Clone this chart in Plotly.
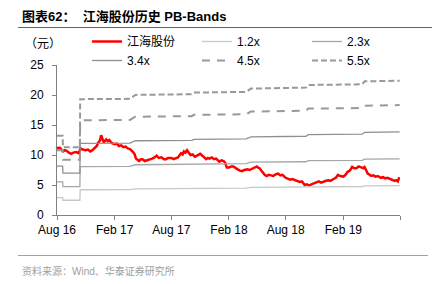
import plotly.graph_objects as go

# ---- data ----
price_dates = ["2016-08-01","2016-08-05","2016-08-10","2016-08-15","2016-08-20","2016-08-26","2016-09-01",
    "2016-09-08","2016-09-15","2016-09-22","2016-10-01","2016-10-10","2016-10-15","2016-10-22","2016-11-01",
    "2016-11-08","2016-11-15","2016-11-22","2016-12-01","2016-12-06","2016-12-10","2016-12-16","2016-12-20",
    "2016-12-24","2016-12-28","2017-01-05","2017-01-10","2017-01-15","2017-01-22","2017-02-01","2017-02-08",
    "2017-02-15","2017-02-22","2017-03-01","2017-03-08","2017-03-15","2017-03-22","2017-04-01","2017-04-06",
    "2017-04-10","2017-04-15","2017-04-20","2017-04-26","2017-05-01","2017-05-08","2017-05-15","2017-05-22",
    "2017-06-01","2017-06-08","2017-06-15","2017-06-22","2017-07-01","2017-07-08","2017-07-15","2017-07-22",
    "2017-08-01","2017-08-08","2017-08-15","2017-08-22","2017-09-01","2017-09-06","2017-09-10","2017-09-15",
    "2017-09-20","2017-09-26","2017-10-01","2017-10-08","2017-10-15","2017-10-22","2017-11-01","2017-11-10",
    "2017-11-20","2017-11-26","2017-12-01","2017-12-08","2017-12-15","2017-12-22","2018-01-01","2018-01-08",
    "2018-01-15","2018-01-20","2018-01-25","2018-02-01","2018-02-08","2018-02-15","2018-02-22","2018-03-01",
    "2018-03-08","2018-03-15","2018-03-22","2018-04-01","2018-04-08","2018-04-15","2018-04-22","2018-05-01",
    "2018-05-05","2018-05-10","2018-05-15","2018-05-20","2018-05-26","2018-06-01","2018-06-08","2018-06-15",
    "2018-06-22","2018-07-01","2018-07-08","2018-07-15","2018-07-22","2018-08-01","2018-08-08","2018-08-15",
    "2018-08-22","2018-09-01","2018-09-08","2018-09-15","2018-09-22","2018-10-01","2018-10-08","2018-10-15",
    "2018-10-22","2018-11-01","2018-11-08","2018-11-15","2018-11-22","2018-12-01","2018-12-08","2018-12-15",
    "2018-12-22","2019-01-01","2019-01-08","2019-01-15","2019-01-22","2019-02-01","2019-02-08","2019-02-15",
    "2019-02-22","2019-03-01","2019-03-08","2019-03-15","2019-03-22","2019-04-01","2019-04-06","2019-04-10",
    "2019-04-15","2019-04-20","2019-04-26","2019-05-01","2019-05-08","2019-05-15","2019-05-22","2019-06-01",
    "2019-06-08","2019-06-15","2019-06-22","2019-07-01","2019-07-08","2019-07-15","2019-07-20","2019-07-25",
    "2019-07-30"]
price_values = [11.3,11.1,11.2,10.9,10.6,10.8,10.7,
    10.4,10.2,10.4,10.5,10.3,11.1,10.9,10.8,
    10.9,10.6,10.8,11.3,11.5,12.0,12.4,13.3,
    12.5,12.1,12.6,12.3,12.5,12.0,11.8,11.9,
    11.5,11.6,11.3,11.4,11.1,11.0,10.5,10.1,
    9.4,9.2,9.0,9.3,9.3,9.0,9.1,9.3,
    9.4,9.6,9.9,9.5,9.6,9.3,9.3,9.5,
    9.5,9.3,9.4,9.6,10.3,10.1,10.6,10.4,
    10.8,10.3,10.0,10.1,9.7,9.9,10.2,9.8,
    9.3,9.5,9.4,9.6,9.3,9.4,8.9,9.1,
    9.0,8.7,7.9,7.9,8.1,8.1,7.8,7.6,
    7.4,7.3,7.5,7.6,7.5,7.7,7.8,8.1,
    7.9,7.8,7.4,7.0,6.7,6.5,6.7,6.6,
    6.5,6.8,6.9,6.6,6.7,6.2,6.1,5.9,
    6.0,5.8,5.7,5.5,5.6,5.0,5.1,4.9,
    5.1,5.3,5.4,5.6,5.4,5.5,5.7,5.8,
    5.7,6.0,6.2,6.7,6.5,6.4,6.7,7.2,
    7.4,8.0,7.8,7.8,8.1,7.9,7.8,8.0,
    7.4,6.9,6.7,6.5,6.6,6.4,6.5,6.2,
    6.3,6.1,6.2,6.0,5.9,5.7,5.8,5.6,
    6.3]

bvps_dates = ["2016-08-01","2016-08-19","2016-08-20","2016-10-13","2016-10-14","2017-03-22","2017-04-08",
    "2017-10-05","2017-10-12","2018-03-28","2018-04-12","2018-10-05","2018-10-12","2019-04-02",
    "2019-04-10","2019-07-31"]
bvps_values = [2.40,2.40,2.05,2.05,3.51,3.52,3.64,3.66,3.71,3.73,3.83,3.86,3.94,3.96,4.05,4.07]

multiples = [1.2, 2.3, 3.4, 4.5, 5.5]
band_names = ["1.2x", "2.3x", "3.4x", "4.5x", "5.5x"]

tick_vals = ["2016-08-01","2017-02-01","2017-08-01","2018-02-01","2018-08-01","2019-02-01","2019-08-01"]
tick_text = ["Aug 16","Feb 17","Aug 17","Feb 18","Aug 18","Feb 19",""]

# ---- styles ----
band_styles = {
    "1.2x": dict(color="#c8c8c8", width=1.3, dash="solid"),
    "2.3x": dict(color="#a6a6a6", width=1.3, dash="solid"),
    "3.4x": dict(color="#8f8f8f", width=1.3, dash="solid"),
    "4.5x": dict(color="#999999", width=2, dash="8px,7px"),
    "5.5x": dict(color="#999999", width=2, dash="6px,3px"),
}

L, R, T, B = 57, 35, 65, 69
W, H = 435, 284
PW, PH = W - L - R, H - T - B
def px(x): return (x - L) / PW
def py(y): return (H - B - y) / PH

fig = go.Figure()
fig.add_trace(go.Scatter(x=price_dates, y=price_values, name="江海股份", mode="lines",
                         line=dict(color="#ff0000", width=2.5)))
for m, n in zip(multiples, band_names):
    fig.add_trace(go.Scatter(x=bvps_dates, y=[m * v for v in bvps_values], name=n, mode="lines",
                             line=band_styles[n]))

font_family = "Liberation Sans, Arial, Noto Sans CJK SC"
fig.update_layout(
    width=W, height=H,
    margin=dict(l=L, r=R, t=T, b=B),
    paper_bgcolor="white", plot_bgcolor="white",
    font=dict(family=font_family, size=12, color="#000000"),
    showlegend=True,
    legend=dict(orientation="h", x=px(87), y=py(27), xanchor="left", yanchor="top",
                entrywidth=65, entrywidthmode="pixels", font=dict(size=12),
                bgcolor="rgba(0,0,0,0)", tracegroupgap=0, itemwidth=30),
    xaxis=dict(type="date", range=["2016-08-01", "2019-08-01"], tickvals=tick_vals, ticktext=tick_text,
               showgrid=False, showline=True, linecolor="#808080", linewidth=1,
               ticks="outside", ticklen=4, tickcolor="#808080", zeroline=False,
               tickfont=dict(size=12)),
    yaxis=dict(range=[0, 25], tickvals=[0, 5, 10, 15, 20, 25], showgrid=False, showline=True,
               linecolor="#808080", linewidth=1, ticks="outside", ticklen=4, tickcolor="#808080",
               zeroline=False, ticklabelstandoff=6, tickfont=dict(size=12)),
    annotations=[
        dict(xref="paper", yref="paper", x=px(20), y=py(17), xanchor="left", yanchor="middle",
             text="<b>图表62：  江海股份历史 PB-Bands</b>", showarrow=False,
             font=dict(size=13, color="#000000", family=font_family)),
        dict(xref="paper", yref="paper", x=px(43), y=py(44), xanchor="center", yanchor="middle",
             text="（元）", showarrow=False, font=dict(size=12, color="#000000")),
        dict(xref="paper", yref="paper", x=px(20), y=py(271), xanchor="left", yanchor="middle",
             text="资料来源：Wind、华泰证券研究所", showarrow=False,
             font=dict(size=10, color="#a0a0a0")),
    ],
    shapes=[
        dict(type="line", xref="paper", yref="paper", x0=px(18), x1=px(432), y0=py(27.5), y1=py(27.5),
             line=dict(color="#e0301e", width=1.2)),
        dict(type="line", xref="paper", yref="paper", x0=px(18), x1=px(428), y0=py(255.5), y1=py(255.5),
             line=dict(color="#f08070", width=1.2)),
    ],
)

fig.write_html("out.html")
